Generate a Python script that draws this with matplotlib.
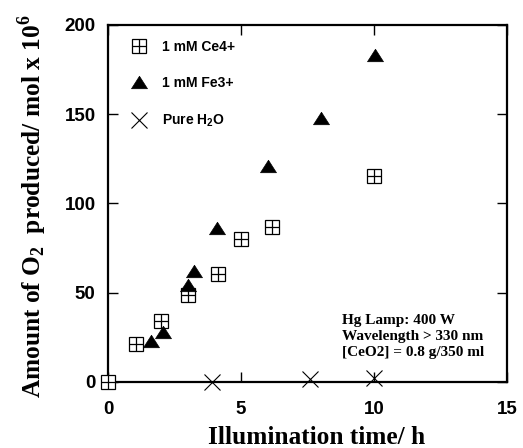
import matplotlib
matplotlib.use("Agg")
import matplotlib.pyplot as plt
from matplotlib.legend_handler import HandlerTuple
from matplotlib.path import Path

plt.rcParams['mathtext.fontset'] = 'custom'
plt.rcParams['mathtext.rm'] = 'Liberation Serif:bold'
plt.rcParams['mathtext.bf'] = 'Liberation Serif:bold'
plt.rcParams['mathtext.sf'] = 'Liberation Sans:bold'

# Data
ce_time = [0, 1.05, 2.0, 3.0, 4.15, 5.0, 6.15, 10.0]
ce_o2 = [0, 21, 34, 48.5, 60.5, 80, 87, 115.5]
fe_time = [1.6, 2.05, 3.0, 3.25, 4.1, 6.0, 8.0, 10.05]
fe_o2 = [23, 28, 54, 62, 86, 121, 148, 183]
h2o_time = [3.9, 7.6, 10.0]
h2o_o2 = [0, 1.5, 2]

xticks = [0, 5, 10, 15]
yticks = [0, 50, 100, 150, 200]
labels = ["1 mM Ce4+", "1 mM Fe3+", r"Pure H$_\mathsf{2}$O"]
note = "Hg Lamp: 400 W\nWavelength > 330 nm\n[CeO2] = 0.8 g/350 ml"

W, H = 523, 448
fig = plt.figure(figsize=(W / 100, H / 100), dpi=100)
ax = fig.add_axes([108 / W, 1 - 381.7 / H, (507 - 108) / W, (381.7 - 25) / H])

tri = Path([(-1, -0.78), (1, -0.78), (0, 0.78), (-1, -0.78)],
           [Path.MOVETO, Path.LINETO, Path.LINETO, Path.CLOSEPOLY])

sq, = ax.plot(ce_time, ce_o2, ls='none', marker='s', ms=10.5, mfc='white',
              mec='black', mew=0.9, clip_on=False, zorder=3)
pl, = ax.plot(ce_time, ce_o2, ls='none', marker='+', ms=10.5,
              mec='black', mew=0.9, clip_on=False, zorder=4)
tr, = ax.plot(fe_time, fe_o2, ls='none', marker=tri, ms=11.5, mfc='black',
              mec='black', mew=0.5, clip_on=False, zorder=3)
xx, = ax.plot(h2o_time, h2o_o2, ls='none', marker='x', ms=12, mec='black',
              mew=0.8, clip_on=False, zorder=3)

ax.set_xlim(0, 15)
ax.set_ylim(0, 200)
ax.set_xticks(xticks)
ax.set_yticks(yticks)
ax.set_xticklabels([str(v) for v in xticks], fontfamily='Liberation Sans',
                   fontweight='bold', fontsize=13.5)
ax.set_yticklabels([str(v) for v in yticks], fontfamily='Liberation Sans',
                   fontweight='bold', fontsize=13.5)
ax.tick_params(axis='both', direction='in', length=7, width=1,
               top=True, right=True)
ax.tick_params(axis='y', pad=9)
ax.tick_params(axis='x', pad=14)
for s in ax.spines.values():
    s.set_linewidth(1.6)

leg = ax.legend([(sq, pl), tr, xx], labels,
                handler_map={tuple: HandlerTuple(ndivide=1)},
                loc='upper left', bbox_to_anchor=(0.058, 0.959),
                frameon=False, borderpad=0, borderaxespad=0,
                handlelength=1.1, handletextpad=1.1, labelspacing=1.62,
                prop={'family': 'Liberation Sans', 'weight': 'bold', 'size': 10})

ax.text(342.5 / W, 1 - 355.5 / H, note, transform=fig.transFigure,
        fontfamily='Liberation Serif', fontweight='bold', fontsize=11,
        ha='left', va='baseline', linespacing=1.27)

fig.text(33 / W, 1 - 206 / H, r"Amount of O$_\mathrm{2}$  produced/ mol x 10$^\mathrm{6}$",
         rotation=90, ha='center', va='center', fontfamily='Liberation Serif',
         fontweight='bold', fontsize=18.3)
fig.text(317 / W, 1 - 437 / H, "Illumination time/ h", ha='center', va='center',
         fontfamily='Liberation Serif', fontweight='bold', fontsize=18.3)

fig.savefig("out.png", dpi=100)
